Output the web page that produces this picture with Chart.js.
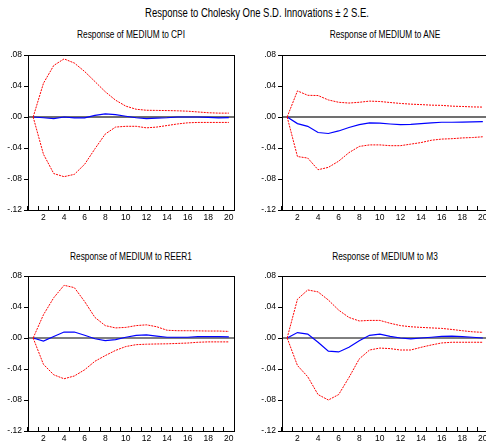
<!DOCTYPE html>
<html lang="en">
<head>
    <meta charset="UTF-8">
    <title>Response to Cholesky One S.D. Innovations</title>
    <script src="https://cdn.jsdelivr.net/npm/chart.js"></script>
    <style>
        * { margin: 0; padding: 0; box-sizing: border-box; }

        body {
            width: 486px;
            height: 448px;
            overflow: hidden;
            position: relative;
            background: #fff;
            font-family: 'Liberation Sans Narrow', 'Arial Narrow', 'Liberation Sans', sans-serif;
            color: #000;
        }

        /* no narrow font installed, so squeeze the text a bit */
        .main-title {
            position: absolute;
            left: 0;
            width: 514px;
            top: 6px;
            text-align: center;
            font-size: 12px;
            transform: scaleX(0.79);
        }

        .sub-title {
            position: absolute;
            width: 206px;
            text-align: center;
            font-size: 10px;
            transform: scaleX(0.83);
        }

        .panel {
            position: absolute;
            width: 243px;
            height: 180px;
        }
    </style>
</head>
<body>

    <div class="main-title">Response to Cholesky One S.D. Innovations &plusmn; 2 S.E.</div>

    <div class="sub-title" style="left: 28px; top: 29px;">Response of MEDIUM to CPI</div>
    <div class="sub-title" style="left: 282px; top: 29px;">Response of MEDIUM to ANE</div>
    <div class="sub-title" style="left: 28px; top: 251px;">Response of MEDIUM to REER1</div>
    <div class="sub-title" style="left: 282px; top: 251px;">Response of MEDIUM to M3</div>

    <div class="panel" style="left: 0px; top: 45px;"><canvas id="cpiChart" width="243" height="180"></canvas></div>
    <div class="panel" style="left: 254px; top: 45px;"><canvas id="aneChart" width="243" height="180"></canvas></div>
    <div class="panel" style="left: 0px; top: 266px;"><canvas id="reerChart" width="243" height="180"></canvas></div>
    <div class="panel" style="left: 254px; top: 266px;"><canvas id="m3Chart" width="243" height="180"></canvas></div>

    <script>
        // periods after the shock
        const periods = [1, 2, 3, 4, 5, 6, 7, 8, 9, 10, 11, 12, 13, 14, 15, 16, 17, 18, 19, 20];

        // y axis ticks
        const yTicks = [-0.12, -0.08, -0.04, 0.00, 0.04, 0.08];

        // Response of MEDIUM to CPI
        const cpiResp  = [0, -0.001, -0.002, 0.000, -0.001, -0.001, 0.002, 0.004, 0.003, 0.001, -0.001, -0.002, -0.0015, -0.001, 0.000, 0.000, 0.000, -0.0005, -0.001, -0.0008];
        const cpiUpper = [0, 0.0435, 0.0665, 0.075, 0.0696, 0.0587, 0.0457, 0.0326, 0.0217, 0.014, 0.010, 0.0087, 0.0085, 0.0083, 0.008, 0.0075, 0.0065, 0.0055, 0.005, 0.005];
        const cpiLower = [0, -0.048, -0.073, -0.077, -0.074, -0.061, -0.041, -0.022, -0.013, -0.012, -0.012, -0.014, -0.013, -0.011, -0.009, -0.0075, -0.007, -0.007, -0.007, -0.007];

        // Response of MEDIUM to ANE
        const aneResp  = [0, -0.0085, -0.012, -0.020, -0.0213, -0.018, -0.0136, -0.0098, -0.0077, -0.008, -0.009, -0.0098, -0.0094, -0.0085, -0.0077, -0.0068, -0.0068, -0.0066, -0.0064, -0.006];
        const aneUpper = [0, 0.0337, 0.028, 0.0277, 0.022, 0.019, 0.018, 0.019, 0.0205, 0.020, 0.0187, 0.0175, 0.0166, 0.016, 0.0153, 0.015, 0.014, 0.0136, 0.013, 0.0128];
        const aneLower = [0, -0.051, -0.053, -0.068, -0.065, -0.057, -0.046, -0.038, -0.036, -0.036, -0.037, -0.037, -0.035, -0.033, -0.030, -0.0285, -0.028, -0.027, -0.0265, -0.0255];

        // Response of MEDIUM to REER1
        const reerResp  = [0, -0.004, 0.002, 0.0077, 0.0077, 0.0035, -0.001, -0.0035, -0.002, 0.001, 0.0035, 0.004, 0.0025, 0.001, 0.001, 0.001, 0.0017, 0.0018, 0.0018, 0.0015];
        const reerUpper = [0, 0.030, 0.052, 0.068, 0.065, 0.047, 0.0265, 0.016, 0.013, 0.0137, 0.016, 0.017, 0.0145, 0.010, 0.0094, 0.0094, 0.0092, 0.009, 0.009, 0.0085];
        const reerLower = [0, -0.034, -0.0475, -0.0526, -0.049, -0.041, -0.030, -0.0227, -0.016, -0.011, -0.0086, -0.008, -0.0077, -0.0075, -0.007, -0.0065, -0.0055, -0.005, -0.005, -0.005];

        // Response of MEDIUM to M3
        const m3Resp  = [0, 0.007, 0.005, -0.0055, -0.017, -0.018, -0.012, -0.0035, 0.0035, 0.005, 0.002, 0.000, -0.001, 0.000, 0.001, 0.002, 0.0025, 0.0017, 0.001, 0.000];
        const m3Upper = [0, 0.050, 0.062, 0.0595, 0.049, 0.036, 0.0265, 0.022, 0.0227, 0.0227, 0.019, 0.016, 0.0145, 0.0137, 0.013, 0.0124, 0.011, 0.0094, 0.008, 0.0073];
        const m3Lower = [0, -0.0355, -0.050, -0.073, -0.080, -0.073, -0.051, -0.027, -0.0155, -0.013, -0.0137, -0.0155, -0.0155, -0.012, -0.009, -0.0064, -0.0055, -0.0055, -0.0055, -0.0055];

        const fontFamily = "'Liberation Sans Narrow', 'Arial Narrow', 'Liberation Sans', sans-serif";

        // box round the plot area and the zero line
        const framePlugin = {
            id: 'frame',
            beforeDatasetsDraw(chart, args, opts) {
                const ctx = chart.ctx;
                const area = chart.chartArea;
                const y0 = chart.scales.y.getPixelForValue(0);
                ctx.save();
                ctx.strokeStyle = opts.zeroColor;
                ctx.lineWidth = opts.zeroWidth;
                ctx.beginPath();
                ctx.moveTo(area.left, y0);
                ctx.lineTo(area.right, y0);
                ctx.stroke();
                ctx.restore();
            },
            afterDraw(chart) {
                const ctx = chart.ctx;
                const area = chart.chartArea;
                ctx.save();
                ctx.strokeStyle = '#000';
                ctx.lineWidth = 1;
                ctx.strokeRect(Math.round(area.left) + 0.5, Math.round(area.top) + 0.5,
                    Math.round(area.right - area.left), Math.round(area.bottom - area.top));
                ctx.restore();
            }
        };

        function makeChart(id, resp, upper, lower, zeroColor, zeroWidth) {
            const ctx = document.getElementById(id).getContext('2d');
            return new Chart(ctx, {
                type: 'line',
                data: {
                    labels: periods,
                    datasets: [
                        {
                            data: upper,
                            borderColor: '#ff0000',
                            borderWidth: 1,
                            borderDash: [2, 1],
                            pointRadius: 0,
                            tension: 0
                        },
                        {
                            data: lower,
                            borderColor: '#ff0000',
                            borderWidth: 1,
                            borderDash: [2, 1],
                            pointRadius: 0,
                            tension: 0
                        },
                        {
                            data: resp,
                            borderColor: '#0000ff',
                            borderWidth: 1.2,
                            pointRadius: 0,
                            tension: 0
                        }
                    ]
                },
                options: {
                    responsive: false,
                    animation: false,
                    layout: {
                        padding: { left: 0, right: 9, top: 10, bottom: 0 }
                    },
                    scales: {
                        x: {
                            type: 'category',
                            offset: true,
                            afterFit(scale) { scale.height = 15; },
                            border: { display: true, color: '#000', width: 1 },
                            grid: {
                                offset: true,
                                drawOnChartArea: false,
                                drawTicks: true,
                                tickLength: -4,
                                color: '#000'
                            },
                            ticks: {
                                autoSkip: false,
                                maxRotation: 0,
                                padding: 7,
                                color: '#000',
                                font: { family: fontFamily, size: 8.5 },
                                callback: function (value, index) {
                                    const p = periods[index];
                                    return p % 2 === 0 ? String(p) : '';
                                }
                            }
                        },
                        y: {
                            min: yTicks[0],
                            max: yTicks[yTicks.length - 1],
                            afterFit(scale) { scale.width = 28; },
                            afterBuildTicks(scale) {
                                scale.ticks = yTicks.map(v => ({ value: v }));
                            },
                            border: { display: true, color: '#000', width: 1 },
                            grid: {
                                drawOnChartArea: false,
                                drawTicks: true,
                                tickLength: 4,
                                color: '#000'
                            },
                            ticks: {
                                padding: 2,
                                color: '#000',
                                font: { family: fontFamily, size: 8.5 },
                                callback: function (value) {
                                    if (Math.abs(value) < 1e-9) return '.00';
                                    return value.toFixed(2).replace('0.', '.');
                                }
                            }
                        }
                    },
                    plugins: {
                        legend: { display: false },
                        tooltip: { enabled: false },
                        frame: { zeroColor: zeroColor, zeroWidth: zeroWidth }
                    }
                },
                plugins: [framePlugin]
            });
        }

        makeChart('cpiChart', cpiResp, cpiUpper, cpiLower, '#707070', 2);
        makeChart('aneChart', aneResp, aneUpper, aneLower, '#707070', 2);
        makeChart('reerChart', reerResp, reerUpper, reerLower, '#000000', 1);
        makeChart('m3Chart', m3Resp, m3Upper, m3Lower, '#000000', 1);
    </script>
</body>
</html>
